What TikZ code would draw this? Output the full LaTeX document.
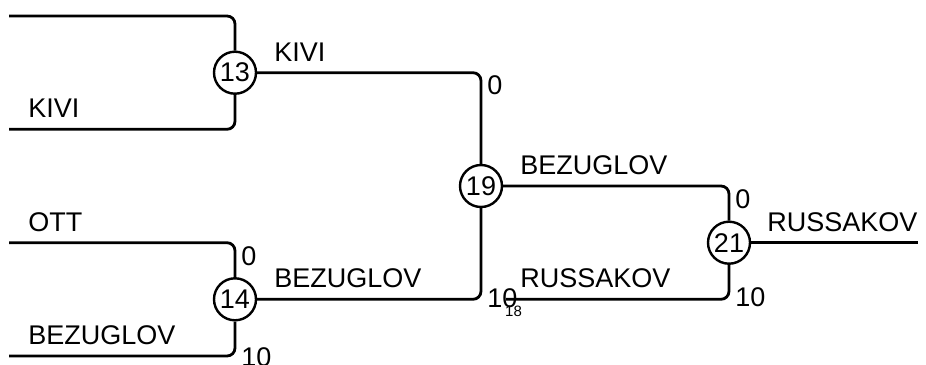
\documentclass[tikz,border=0pt]{standalone}
\usepackage{fontspec}
\setmainfont{Liberation Sans}
\begin{document}
\begin{tikzpicture}[x=1pt,y=-1pt,
  line width=2.8pt,
  wire/.style={draw=black,line width=2.8pt,rounded corners=8pt},
  team/.style={circle,draw=black,line width=2.4pt,minimum size=42pt,inner sep=0pt,font=\fontsize{27}{30}\selectfont},
  playerlbl/.style={anchor=base west,inner sep=0pt,font=\fontsize{27}{30}\selectfont},
  scorelbl/.style={inner sep=0pt,font=\fontsize{27}{30}\selectfont},
  smalllbl/.style={inner sep=0pt,font=\fontsize{15}{17}\selectfont}]
\useasboundingbox (0,0) rectangle (926,364);
% matches
\node[team] (n13) at (235,72.7) {13};
\node[team] (n14) at (235,299.3) {14};
\node[team] (n19) at (481,186) {19};
\node[team] (n21) at (729,242.7) {21};
% free ends
\coordinate (a1) at (9,16);
\coordinate (a2) at (9,129.3);
\coordinate (a3) at (9,242.7);
\coordinate (a4) at (9,356);
\coordinate (c18) at (506,299.3);
\coordinate (win) at (918,242.7);
% connectors
\draw[wire] (a1) -| (n13);
\draw[wire] (a2) -| (n13);
\draw[wire] (a3) -| (n14);
\draw[wire] (a4) -| (n14);
\draw[wire] (n13) -| (n19);
\draw[wire] (n14) -| (n19);
\draw[wire] (n19) -| (n21);
\draw[wire] (c18) -| (n21);
\draw[wire] (n21) -- (win);
% names
\node[playerlbl] (t1) at (27,117.5) {KIVI};
\node[playerlbl] (t2) at (273,61) {KIVI};
\node[playerlbl] (t3) at (27,231) {OTT};
\node[playerlbl] (t4) at (27,344.5) {BEZUGLOV};
\node[playerlbl] (t5) at (273,287.5) {BEZUGLOV};
\node[playerlbl] (t6) at (519,174.5) {BEZUGLOV};
\node[playerlbl] (t7) at (519,287.5) {RUSSAKOV};
\node[playerlbl] (t8) at (766,231) {RUSSAKOV};
% scores
\node[scorelbl,anchor=north west] (s1) at (486,74) {0};
\node[scorelbl,anchor=north west] (s2) at (240,245) {0};
\node[scorelbl,anchor=west] (s3) at (240,357) {10};
\node[scorelbl,anchor=west] (s4) at (486,298) {10};
\node[scorelbl,anchor=north west] (s5) at (734,188) {0};
\node[scorelbl,anchor=west] (s6) at (734,297) {10};
\node[smalllbl] (s7) at (513.5,311) {18};
\end{tikzpicture}
\end{document}
